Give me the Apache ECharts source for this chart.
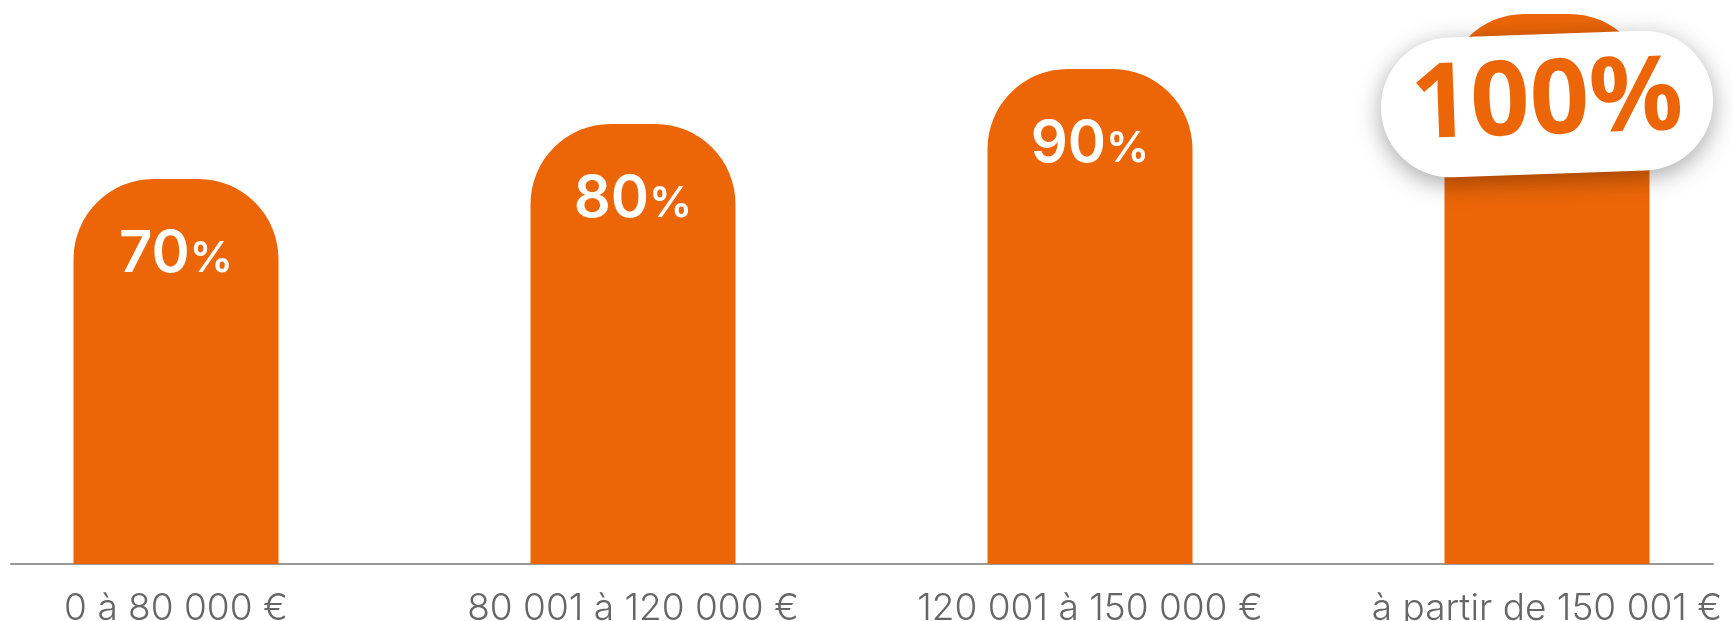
<!DOCTYPE html>
<html><head><meta charset="utf-8">
<script src="https://cdn.jsdelivr.net/npm/echarts@6/dist/echarts.min.js"></script>
<style>html,body{margin:0;padding:0;background:#fff}#c{width:1733px;height:621px}</style>
</head><body><div id="c"></div>
<script>
const categories = ['0 à 80 000 €', '80 001 à 120 000 €', '120 001 à 150 000 €', 'à partir de 150 001 €'];
const shares = [70, 80, 90, 100];
const highlightIndex = 3;
const ORANGE = '#EC6608';

const chart = echarts.init(document.getElementById('c'), null, { renderer: 'canvas' });

const seriesData = shares.map((v, i) => {
  if (i !== highlightIndex) return v;
  return {
    value: v,
    label: {
      position: ['50%', 90],
      align: 'center',
      verticalAlign: 'middle',
      rotate: 2,
      color: ORANGE,
      fontFamily: 'Noto Sans',
      fontWeight: 700,
      fontSize: 104,
      lineHeight: 104,
      backgroundColor: '#fff',
      borderRadius: 70,
      padding: [18, 30],
      shadowBlur: 24,
      shadowColor: 'rgba(0,0,0,0.35)',
      shadowOffsetY: 6
    }
  };
});

chart.setOption({
  animation: false,
  grid: [
    { left: -52.5, right: -42.5, top: 14, bottom: 57, outerBoundsMode: 'none', containLabel: false },
    { left: 11, right: 20, top: 14, bottom: 57, outerBoundsMode: 'none', containLabel: false }
  ],
  xAxis: [
    {
      type: 'category', data: categories, gridIndex: 0,
      axisLine: { show: false }, axisTick: { show: false },
      axisLabel: {
        interval: 0, hideOverlap: false,
        margin: 26, color: '#666', fontFamily: 'Inter', fontWeight: 300, fontSize: 37
      }
    },
    {
      type: 'value', gridIndex: 1,
      axisLine: { show: true, onZero: false, lineStyle: { color: '#999', width: 2 } },
      axisTick: { show: false }, axisLabel: { show: false }, splitLine: { show: false }
    }
  ],
  yAxis: [
    { type: 'value', min: 0, max: 100, show: false, gridIndex: 0 },
    { type: 'value', gridIndex: 1, show: false }
  ],
  series: [{
    type: 'bar',
    xAxisIndex: 0, yAxisIndex: 0,
    data: seriesData,
    barWidth: 205,
    itemStyle: { color: ORANGE, borderRadius: [80, 80, 0, 0] },
    label: {
      show: true,
      position: ['50%', 76],
      align: 'center',
      verticalAlign: 'middle',
      formatter: p => p.dataIndex === highlightIndex ? p.value + '%' : '{n|' + p.value + '}{p|%}',
      rich: {
        n: { fontFamily: 'Inter', fontWeight: 600, fontSize: 58, color: '#fff', verticalAlign: 'bottom' },
        p: { fontFamily: 'Inter', fontWeight: 600, fontSize: 43, color: '#fff', verticalAlign: 'bottom', padding: [0, 0, 3, 0] }
      }
    }
  }]
});
</script>
</body></html>
